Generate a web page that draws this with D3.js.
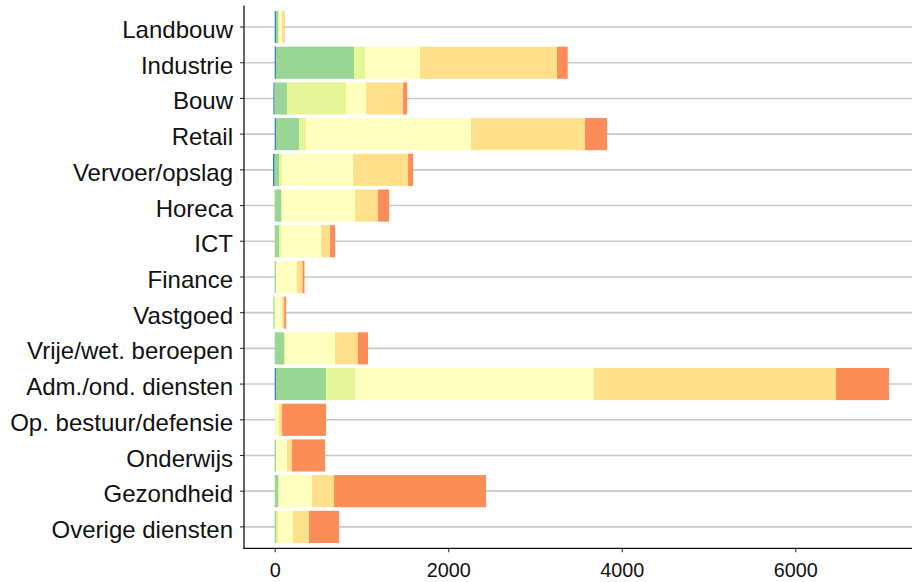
<!DOCTYPE html>
<html>
<head>
<meta charset="utf-8">
<script src="https://cdn.jsdelivr.net/npm/d3@7"></script>
<style>
  html, body { margin: 0; padding: 0; background: #fff; }
  svg { display: block; font-family: "Liberation Sans", Arial, sans-serif; }
</style>
</head>
<body>
<svg id="chart" width="912" height="582"></svg>
<script>
// ---- data ----
const categories = ["Landbouw", "Industrie", "Bouw", "Retail", "Vervoer/opslag", "Horeca", "ICT",
  "Finance", "Vastgoed", "Vrije/wet. beroepen", "Adm./ond. diensten", "Op. bestuur/defensie",
  "Onderwijs", "Gezondheid", "Overige diensten"];
const seriesKeys = ["k1", "k2", "k3", "k4", "k5", "k6"];
const k1 = [15, 15, -15, 15, -20, 0, 0, 0, 0, 0, 15, 0, 0, 0, 0];
const k2 = [23, 899, 142, 265, 50, 73, 50, 15, -15, 107, 576, 0, 15, 38, 15];
const k3 = [12, 127, 680, 81, 35, 12, 23, 5, 5, 12, 334, 10, 0, 12, 23];
const k4 = [35, 634, 231, 1902, 818, 841, 461, 231, 81, 576, 2755, 40, 127, 380, 173];
const k5 = [23, 1579, 427, 1314, 634, 265, 104, 69, 23, 265, 2790, 35, 58, 254, 184];
const k6 = [4, 123, 46, 254, 58, 127, 58, 23, 23, 115, 611, 507, 380, 1752, 346];
const seriesValues = [k1, k2, k3, k4, k5, k6];
const seriesColors = ["#3288BD", "#99D594", "#E6F598", "#FFFFBF", "#FEE08B", "#FC8D59"];
const xTicks = [0, 2000, 4000, 6000];

// table for d3.stack
const rows = categories.map((c, i) => {
  const r = { cat: c };
  seriesKeys.forEach((k, j) => r[k] = seriesValues[j][i]);
  return r;
});

const svg = d3.select("#chart");
const panel = { left: 244, right: 912, top: 5.6, bottom: 548.3 };

const x = d3.scaleLinear().domain([0, 6000]).range([274.7, 795.3]);
const y = d3.scaleBand().domain(categories)
  .range([panel.top, panel.bottom]).paddingInner(0.1).paddingOuter(0.15);

// gridlines
svg.append("g").selectAll("line").data(categories).join("line")
  .attr("x1", panel.left).attr("x2", panel.right)
  .attr("y1", d => y(d) + y.bandwidth() / 2).attr("y2", d => y(d) + y.bandwidth() / 2)
  .attr("stroke", "#c8c8c8").attr("stroke-width", 1.6);

// stacked bars
const stacked = d3.stack().keys(seriesKeys).offset(d3.stackOffsetDiverging)(rows);
svg.append("g").selectAll("g").data(stacked).join("g")
  .attr("fill", (d, i) => seriesColors[i])
  .selectAll("rect").data(d => d).join("rect")
  .attr("x", d => x(Math.min(d[0], d[1])))
  .attr("width", d => Math.abs(x(d[1]) - x(d[0])))
  .attr("y", d => y(d.data.cat))
  .attr("height", y.bandwidth());

// y axis
const yAxis = svg.append("g").attr("transform", `translate(${panel.left},0)`)
  .call(d3.axisLeft(y).tickSize(4).tickPadding(7));
yAxis.select(".domain").remove();
yAxis.selectAll(".tick line").attr("stroke", "#333").attr("stroke-width", 1.1);
yAxis.selectAll(".tick text").attr("font-size", "24px").attr("fill", "#111")
  .attr("font-family", "'Liberation Sans', Arial, sans-serif").attr("dy", "0.46em");
svg.append("line").attr("x1", panel.left).attr("x2", panel.left)
  .attr("y1", panel.top).attr("y2", panel.bottom + 0.6)
  .attr("stroke", "#111").attr("stroke-width", 1.3);

// x axis
const xAxis = svg.append("g").attr("transform", `translate(0,${panel.bottom})`)
  .call(d3.axisBottom(x).tickValues(xTicks).tickFormat(d3.format("d")).tickSize(4).tickPadding(11));
xAxis.select(".domain").remove();
xAxis.selectAll(".tick line").attr("stroke", "#333").attr("stroke-width", 1.1);
xAxis.selectAll(".tick text").attr("font-size", "19.8px").attr("fill", "#111")
  .attr("font-family", "'Liberation Sans', Arial, sans-serif");
svg.append("line").attr("x1", panel.left - 0.6).attr("x2", panel.right)
  .attr("y1", panel.bottom).attr("y2", panel.bottom)
  .attr("stroke", "#111").attr("stroke-width", 1.3);
</script>
</body>
</html>
